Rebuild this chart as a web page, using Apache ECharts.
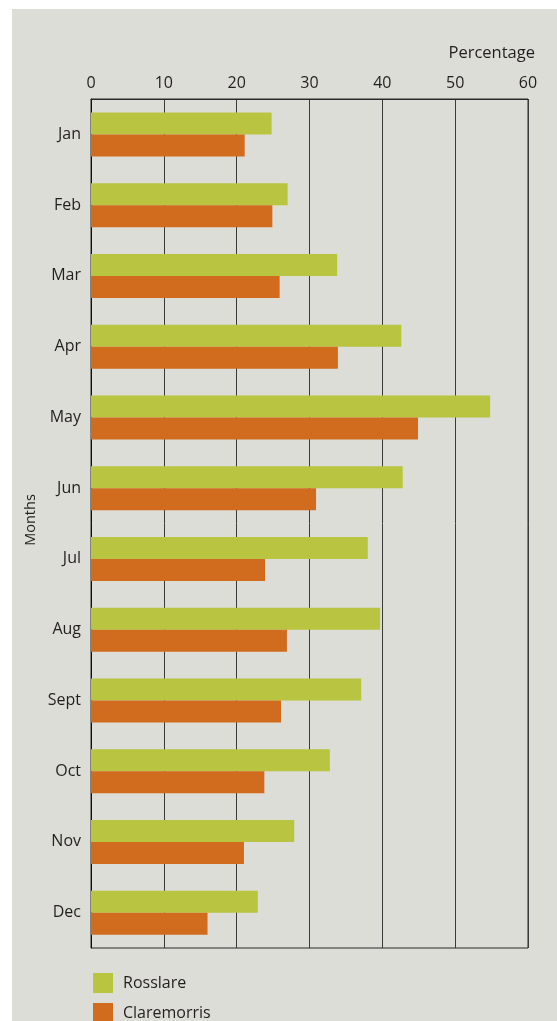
<!DOCTYPE html>
<html>
<head>
<meta charset="utf-8">
<script src="https://cdn.jsdelivr.net/npm/echarts@6/dist/echarts.min.js"></script>
<style>
html,body{margin:0;padding:0;background:#fff;}
#bg{position:absolute;left:12px;top:9px;width:545px;height:1012px;background:#dcddd6;}
#chart{position:absolute;left:0;top:0;width:557px;height:1021px;}
</style>
</head>
<body>
<div id="bg"></div>
<div id="chart"></div>
<script>
const months = ['Jan','Feb','Mar','Apr','May','Jun','Jul','Aug','Sept','Oct','Nov','Dec'];
const rosslare = [24.8, 27.0, 33.8, 42.6, 54.8, 42.8, 38.0, 39.7, 37.1, 32.8, 27.9, 22.9];
const claremorris = [21.1, 24.9, 25.9, 33.9, 44.9, 30.9, 23.9, 26.9, 26.1, 23.8, 21.0, 16.0];
const xTicks = {min: 0, max: 60, interval: 10};
const seriesNames = ['Rosslare', 'Claremorris'];
const colors = ['#b9c541', '#d16c1f'];
const font = '"Open Sans", sans-serif';
const textColor = '#231f20';

const legendBase = {
  orient: 'vertical', left: 93, padding: 0, itemWidth: 20, itemHeight: 20, icon: 'rect',
  textStyle: {fontSize: 16, color: textColor, fontFamily: font, padding: [0, 0, 0, 5]}
};

const chart = echarts.init(document.getElementById('chart'), null, {renderer: 'canvas'});
chart.setOption({
  backgroundColor: 'transparent',
  animation: false,
  color: colors,
  textStyle: {fontFamily: font, color: textColor},
  grid: {left: 91, top: 99, width: 437, height: 849, show: true, borderColor: '#2a2a2a', borderWidth: 1, backgroundColor: 'transparent'},
  xAxis: {
    type: 'value', position: 'top', min: xTicks.min, max: xTicks.max, interval: xTicks.interval,
    axisLine: {show: true, lineStyle: {color: '#2a2a2a'}},
    axisTick: {show: false},
    splitLine: {show: true, lineStyle: {color: '#3a3a3a', width: 1}},
    axisLabel: {fontSize: 16, color: textColor, fontFamily: font, margin: 8}
  },
  yAxis: {
    type: 'category', data: months, inverse: true,
    axisLine: {show: true, lineStyle: {color: '#111'}},
    axisTick: {show: false},
    axisLabel: {fontSize: 16, color: textColor, fontFamily: font, margin: 10}
  },
  legend: [
    Object.assign({}, legendBase, {top: 973, data: [seriesNames[0]]}),
    Object.assign({}, legendBase, {top: 1003, data: [seriesNames[1]]})
  ],
  graphic: [
    {type: 'text', x: 535, y: 53, style: {text: 'Percentage', fontSize: 16.5, fill: textColor, fontFamily: font, textAlign: 'right', textVerticalAlign: 'middle'}},
    {type: 'text', x: 31, y: 520, rotation: Math.PI / 2, style: {text: 'Months', fontSize: 14.5, fill: textColor, fontFamily: font, textAlign: 'center', textVerticalAlign: 'middle'}}
  ],
  series: [
    {name: seriesNames[0], type: 'bar', data: rosslare, barWidth: 22, barGap: '0%'},
    {name: seriesNames[1], type: 'bar', data: claremorris, barWidth: 22, barGap: '0%'}
  ]
});
</script>
</body>
</html>
